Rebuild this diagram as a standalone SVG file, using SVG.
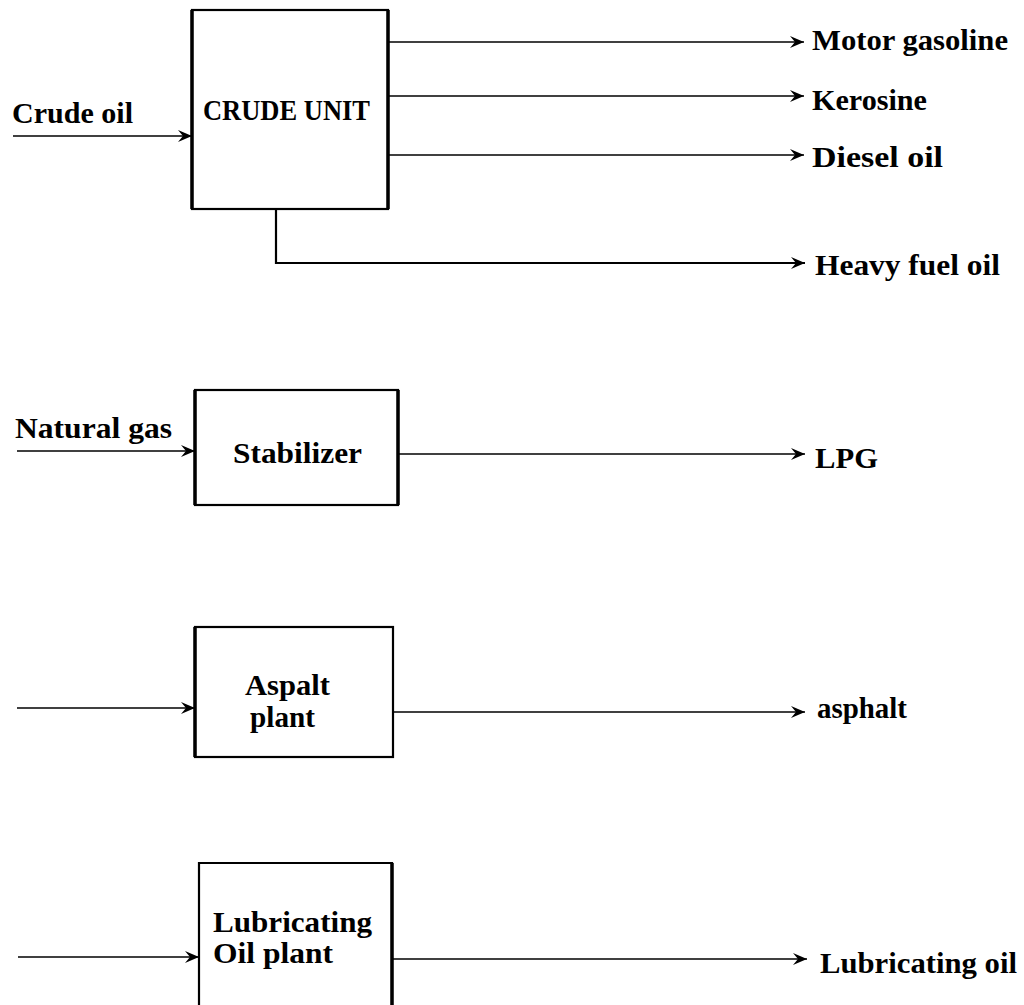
<svg xmlns="http://www.w3.org/2000/svg" width="1024" height="1005" viewBox="0 0 1024 1005">
  <style>
    .box { fill: none; stroke: #000; stroke-width: 2.2; }
    .thick { stroke: #000; stroke-width: 3.5; fill: none; }
    .conn { stroke: #000; stroke-width: 1.6; fill: none; }
    .t { font-family: "Liberation Serif", "Times New Roman", serif; font-weight: bold; font-size: 29px; fill: #000; }
  </style>
  <defs>
    <marker id="ah" markerUnits="userSpaceOnUse" markerWidth="15" markerHeight="12" refX="14" refY="6" orient="auto">
      <path d="M0,0 L14,6 L0,12 L5,6 z" fill="#000"/>
    </marker>
  </defs>
  <rect width="1024" height="1005" fill="#fff"/>

  <g id="connectors">
    <line class="conn" x1="13" y1="136" x2="192" y2="136" marker-end="url(#ah)"/>
    <line class="conn" x1="388" y1="42" x2="804" y2="42" marker-end="url(#ah)"/>
    <line class="conn" x1="388" y1="96" x2="804" y2="96" marker-end="url(#ah)"/>
    <line class="conn" x1="388" y1="155" x2="804" y2="155" marker-end="url(#ah)"/>
    <polyline class="conn" points="276,209 276,263 805,263" marker-end="url(#ah)" style="stroke-width:2.2"/>
    <line class="conn" x1="17" y1="451" x2="195" y2="451" marker-end="url(#ah)"/>
    <line class="conn" x1="398" y1="454" x2="805" y2="454" marker-end="url(#ah)"/>
    <line class="conn" x1="17" y1="708" x2="195" y2="708" marker-end="url(#ah)"/>
    <line class="conn" x1="393" y1="712" x2="805" y2="712" marker-end="url(#ah)"/>
    <line class="conn" x1="18" y1="957" x2="199" y2="957" marker-end="url(#ah)"/>
    <line class="conn" x1="392" y1="959" x2="807" y2="959" marker-end="url(#ah)"/>
  </g>

  <g id="crude-unit">
    <rect class="box" x="192" y="10" width="196" height="199"/>
    <line class="thick" x1="192" y1="10" x2="192" y2="209"/>
    <line class="thick" x1="388" y1="10" x2="388" y2="209"/>
    <text class="t" x="203" y="120" textLength="167" lengthAdjust="spacingAndGlyphs">CRUDE UNIT</text>
  </g>

  <g id="stabilizer">
    <rect class="box" x="195" y="390" width="203" height="115"/>
    <line class="thick" x1="195" y1="390" x2="195" y2="505"/>
    <line class="thick" x1="398" y1="390" x2="398" y2="505"/>
    <text class="t" x="233" y="463" textLength="129" lengthAdjust="spacingAndGlyphs">Stabilizer</text>
  </g>

  <g id="asphalt-plant">
    <rect class="box" x="195" y="627" width="198" height="130"/>
    <line class="thick" x1="195" y1="627" x2="195" y2="757"/>
    <text class="t" x="245" y="695" textLength="85" lengthAdjust="spacingAndGlyphs">Aspalt</text>
    <text class="t" x="250" y="727" textLength="65" lengthAdjust="spacingAndGlyphs">plant</text>
  </g>

  <g id="lube-plant">
    <polyline class="box" points="199,1010 199,863 392,863 392,1010"/>
    <line class="thick" x1="392" y1="863" x2="392" y2="1010"/>
    <text class="t" x="213" y="932" textLength="159" lengthAdjust="spacingAndGlyphs">Lubricating</text>
    <text class="t" x="213" y="963" textLength="120" lengthAdjust="spacingAndGlyphs">Oil plant</text>
  </g>

  <g id="labels">
    <text class="t" x="12" y="123" textLength="121" lengthAdjust="spacingAndGlyphs">Crude oil</text>
    <text class="t" x="812" y="50" textLength="196" lengthAdjust="spacingAndGlyphs">Motor gasoline</text>
    <text class="t" x="812" y="110" textLength="115" lengthAdjust="spacingAndGlyphs">Kerosine</text>
    <text class="t" x="812" y="167" textLength="131" lengthAdjust="spacingAndGlyphs">Diesel oil</text>
    <text class="t" x="815" y="275" textLength="185" lengthAdjust="spacingAndGlyphs">Heavy fuel oil</text>
    <text class="t" x="15" y="438" textLength="157" lengthAdjust="spacingAndGlyphs">Natural gas</text>
    <text class="t" x="815" y="468" textLength="63" lengthAdjust="spacingAndGlyphs">LPG</text>
    <text class="t" x="817" y="718" textLength="90" lengthAdjust="spacingAndGlyphs">asphalt</text>
    <text class="t" x="820" y="973" textLength="197" lengthAdjust="spacingAndGlyphs">Lubricating oil</text>
  </g>
</svg>
